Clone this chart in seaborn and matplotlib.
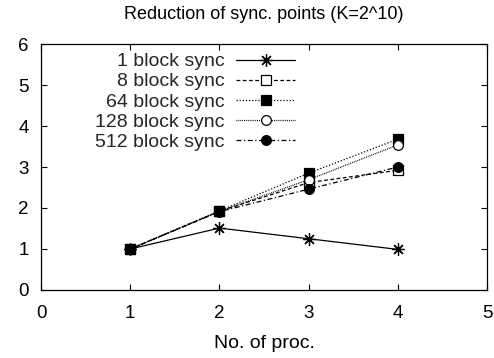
import matplotlib
matplotlib.use("Agg")
import matplotlib.pyplot as plt
import seaborn as sns
import pandas as pd

# Measured speed-up in the number of synchronisation points
procs = [1, 2, 3, 4]
series_names = ["1 block sync", "8 block sync", "64 block sync",
                "128 block sync", "512 block sync"]
sync_1 = [1.0, 1.51, 1.25, 0.99]
sync_8 = [1.0, 1.92, 2.62, 2.92]
sync_64 = [1.0, 1.93, 2.85, 3.68]
sync_128 = [1.0, 1.92, 2.69, 3.54]
sync_512 = [1.0, 1.91, 2.46, 3.00]

x_ticks = [0, 1, 2, 3, 4, 5]
y_ticks = [0, 1, 2, 3, 4, 5, 6]

sns.set_theme(style="ticks")
plt.rcParams["font.family"] = ["Liberation Sans", "DejaVu Sans"]

fig = plt.figure(figsize=(4.94, 3.58), dpi=100)
ax = fig.add_axes([0.083, 0.19, 0.903, 0.687])

values = [sync_1, sync_8, sync_64, sync_128, sync_512]
styles = [
    dict(marker=(8, 2, 0), markersize=9, mfc="black", linestyle="-"),
    dict(marker="s", markersize=7, mfc="white", linestyle=(0, (3, 2))),
    dict(marker="s", markersize=7, mfc="black", linestyle=(0, (1, 1.5))),
    dict(marker="o", markersize=7, mfc="white", linestyle=(0, (0.7, 0.8))),
    dict(marker="o", markersize=7, mfc="black", linestyle=(0, (4, 2, 1, 2))),
]

for name, vals, st in zip(series_names, values, styles):
    df = pd.DataFrame({"proc": procs, "val": vals})
    sns.lineplot(data=df, x="proc", y="val", ax=ax, color="black",
                 linewidth=0.9, mec="black", mew=0.9, label=name, **st)

ax.set_xlim(0, 5)
ax.set_ylim(0, 6)
ax.set_xticks(x_ticks)
ax.set_yticks(y_ticks)
ax.tick_params(direction="in", length=4, width=0.8, top=True, right=True,
               labelsize=13.5, colors="black")
ax.tick_params(axis="x", pad=11)
ax.tick_params(axis="y", pad=9)
for sp in ax.spines.values():
    sp.set_visible(True)
    sp.set_color("black")
    sp.set_linewidth(0.9)

ax.set_xlabel("No. of proc.", fontsize=14, color="black", labelpad=9)
ax.set_ylabel("")
ax.set_title("Reduction of sync. points (K=2^10)", fontsize=13,
             color="black", pad=18)

leg = ax.legend(loc="upper right", bbox_to_anchor=(0.595, 1.012),
                markerfirst=False, frameon=False, fontsize=14,
                handlelength=3.0, labelspacing=0.13, handletextpad=0.6,
                borderaxespad=0.2)

fig.savefig("out.png", dpi=100)
